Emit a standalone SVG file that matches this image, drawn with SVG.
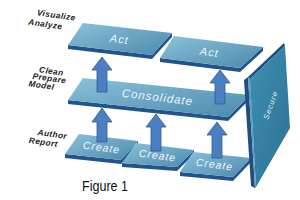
<svg xmlns="http://www.w3.org/2000/svg" width="300" height="200" viewBox="0 0 300 200">
<defs>
<linearGradient id="top" x1="0" y1="0" x2="1" y2="1">
<stop offset="0" stop-color="#8cc2da"/>
<stop offset="1" stop-color="#4b89ad"/>
</linearGradient>
<linearGradient id="pan" x1="0" y1="0" x2="1" y2="1">
<stop offset="0" stop-color="#3f8fb0"/>
<stop offset="1" stop-color="#2b7196"/>
</linearGradient>
<style>
.edge{fill:#22548a}
.face{fill:url(#top)}
.pt{font-family:"Liberation Sans",Arial,sans-serif;font-style:italic;fill:#eef5fa;text-anchor:middle;letter-spacing:1px}
.lab{font-family:"Liberation Sans",Arial,sans-serif;font-style:italic;font-weight:bold;font-size:8.3px;fill:#222;text-anchor:middle;letter-spacing:0.4px}
.arr{fill:#4c7fc2;stroke:#2f5c8f;stroke-width:0.8}
</style>
</defs>
<rect width="300" height="200" fill="#fff"/>

<g id="labels">
<text class="lab" transform="translate(56,18) rotate(8)">Visualize</text>
<text class="lab" transform="translate(45,27) rotate(8)">Analyze</text>
<text class="lab" transform="translate(51,74) rotate(8)">Clean</text>
<text class="lab" transform="translate(49,81) rotate(8)">Prepare</text>
<text class="lab" transform="translate(41,88) rotate(8)">Model</text>
<text class="lab" transform="translate(52,137) rotate(8)">Author</text>
<text class="lab" transform="translate(43,145) rotate(8)">Report</text>
</g>

<g id="create1">
<polygon class="edge" points="65,154 121,160 138,141 138,145 121,164 65,158"/>
<polygon class="face" points="65,154 79,134 138,141 121,160"/>
<text class="pt" font-size="10.5" transform="translate(101,151) rotate(8)">Create</text>
</g>
<g id="create2">
<polygon class="edge" points="122,163 177,167 194,150 194,154 177,171 122,167"/>
<polygon class="face" points="122,163 136,143 194,150 177,167"/>
<text class="pt" font-size="10.5" transform="translate(157,159) rotate(8)">Create</text>
</g>
<g id="create3">
<polygon class="edge" points="180,172 233,177 251,158 251,162 233,181 180,176"/>
<polygon class="face" points="180,172 193,152 251,158 233,177"/>
<text class="pt" font-size="10.5" transform="translate(214,168) rotate(8)">Create</text>
</g>

<g id="connectors-lower">
<polygon class="arr" points="102,108 112,122 107,122 107,142 97,142 97,122 92,122"/>
<polygon class="arr" points="156,114 166,127 161,127 161,151 151,151 151,127 146,127"/>
<polygon class="arr" points="217,122 227,135 222,135 222,158 212,158 212,135 207,135"/>
</g>

<g id="consolidate">
<polygon class="edge" points="68,100 228,117 250,95 250,99 228,121 68,104"/>
<polygon class="face" points="68,100 83,78 250,95 228,117"/>
<text class="pt" font-size="11.5" letter-spacing="1.5" transform="translate(157,101) rotate(7)">Consolidate</text>
</g>

<g id="connectors-upper">
<polygon class="arr" points="102,57 112,70 107,70 107,92 97,92 97,70 92,70"/>
<polygon class="arr" points="220,70 230,83 225,83 225,104 215,104 215,83 210,83"/>
</g>

<g id="act1">
<polygon class="edge" points="68,45 152,55 172,33 172,37 152,59 68,49"/>
<polygon class="face" points="68,45 83,23 172,33 152,55"/>
<text class="pt" font-size="11" transform="translate(119,43) rotate(7)">Act</text>
</g>
<g id="act2">
<polygon class="edge" points="160,58 240,68 263,47 263,51 240,72 160,62"/>
<polygon class="face" points="160,58 174,36 263,47 240,68"/>
<text class="pt" font-size="11" transform="translate(209,56) rotate(7)">Act</text>
</g>

<g id="secure">
<polygon fill="#1f4f7e" points="244,80 248,77 255,188 251,186"/>
<polygon fill="#5a9ec4" points="248,77 250,76 256,187 255,188"/>
<polygon fill="#1f4f7e" points="248,77 284,43 285,46 250,79"/>
<polygon fill="url(#pan)" points="250,79 285,46 290,128 256,187"/>
<text class="pt" font-size="7.5" letter-spacing="0.3" transform="translate(273,106) rotate(-70)">Secure</text>
</g>

<text x="82" y="191" font-family="'Liberation Sans',Arial,sans-serif" font-size="14.5" textLength="46" lengthAdjust="spacingAndGlyphs" fill="#111">Figure 1</text>
</svg>
